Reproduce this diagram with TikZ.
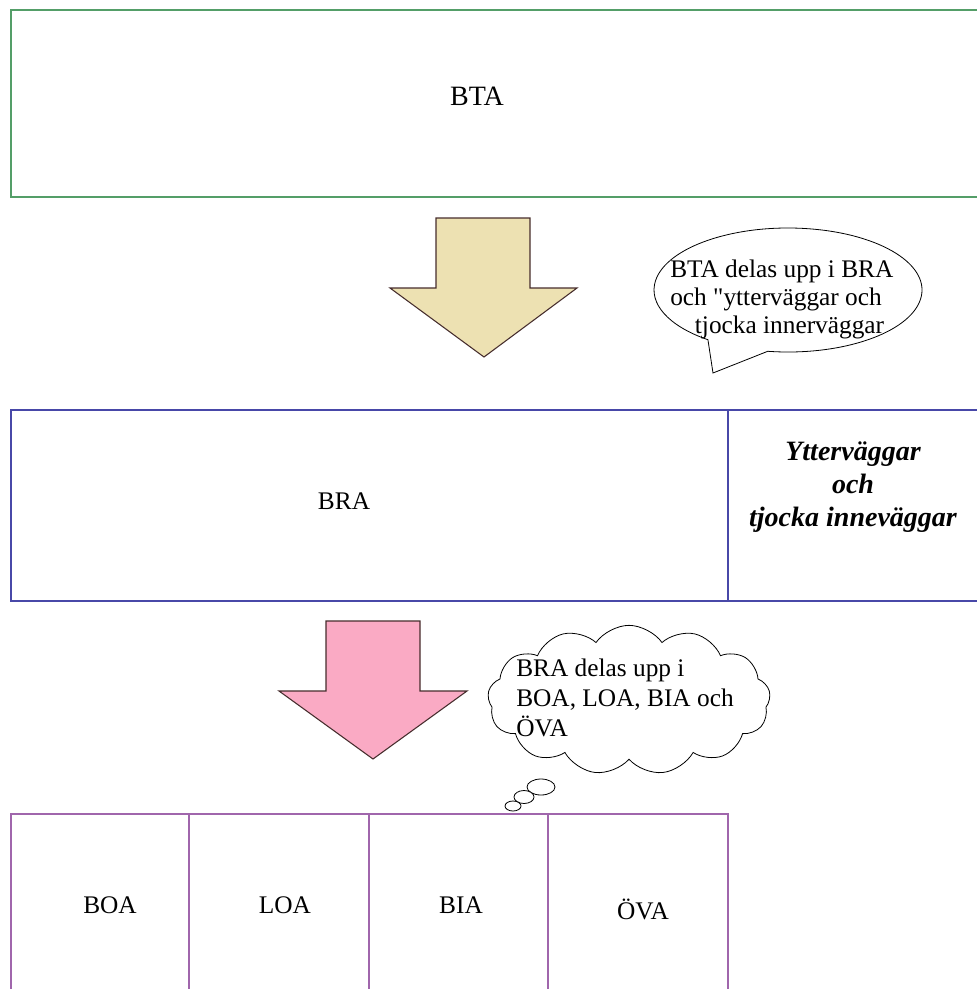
\documentclass[tikz,border=0pt]{standalone}
\usepackage{fontspec}
\setmainfont{Liberation Serif}[Ligatures=TeXOff]
\usetikzlibrary{shapes.symbols}
\definecolor{btagreen}{RGB}{84,158,104}
\definecolor{brablue}{RGB}{72,72,168}
\definecolor{boxpurple}{RGB}{160,102,172}
\definecolor{tanfill}{RGB}{237,225,178}
\definecolor{pinkfill}{RGB}{250,170,196}
\definecolor{arrowline}{RGB}{70,45,45}
\tikzset{
  lbl/.style={inner sep=0pt, font=\fontsize{19}{22}\selectfont},
  bigarrow/.style={draw=arrowline, line width=0.8pt, line join=miter},
  bubbleline/.style={draw=black, line width=0.6pt, fill=white},
}
\begin{document}
\begin{tikzpicture}[x=0.75pt,y=-0.75pt]
\useasboundingbox (0,0) rectangle (976,989);
% BTA box
\draw[btagreen, line width=1.8pt] (995,10) -- (11,10) -- (11,197) -- (995,197);
\node[lbl, font=\fontsize{21}{24}\selectfont] (bta) at (477,96) {BTA};
% tan arrow
\draw[bigarrow, fill=tanfill] (436,218) -- (530,218) -- (530,288) -- (577,288) -- (484,357) -- (390,288) -- (436,288) -- cycle;
% speech bubble
\draw[bubbleline] ({788+134*cos(98.7)},{290+62*sin(98.7)}) arc[start angle=98.7, end angle=-233.3, x radius=134, y radius=62] -- (713,373) -- cycle;
\node[lbl, anchor=north west, align=left, font=\fontsize{19}{20.8}\selectfont] (bubtext) at (670,260)
  {BTA delas upp i BRA\\och "ytterväggar och\\\hspace*{18.5pt}tjocka innerväggar};
% BRA box
\draw[brablue, line width=1.6pt] (995,410) -- (11,410) -- (11,601) -- (995,601);
\draw[brablue, line width=1.6pt] (728,410) -- (728,601);
\node[lbl] (bra) at (344,501) {BRA};
\node[lbl, align=center, font=\fontsize{21}{24.8}\bfseries\itshape] (ytter) at (853,487)
  {Ytterväggar\\och\\tjocka inneväggar};
% pink arrow
\draw[bigarrow, fill=pinkfill] (326,621) -- (420,621) -- (420,691) -- (467,691) -- (373,759) -- (279,691) -- (326,691) -- cycle;
% thought cloud
\node[cloud, draw=black, line width=0.6pt, fill=white, cloud puffs=13, cloud puff arc=110, aspect=2, cloud ignores aspect,
  minimum width=212pt, minimum height=112pt, inner sep=0pt] (cloud) at (629,700) {};
\node[lbl, anchor=north west, align=left, font=\fontsize{19}{22.5}\selectfont] (cloudtext) at (516,659)
  {BRA delas upp i\\BOA, LOA, BIA och\\ÖVA};
\draw[line width=0.6pt, fill=white] (541,787) ellipse [x radius=14, y radius=8];
\draw[line width=0.6pt, fill=white] (524,797) ellipse [x radius=10, y radius=6.5];
\draw[line width=0.6pt, fill=white] (513,806) ellipse [x radius=8, y radius=5];
% bottom boxes
\draw[boxpurple, line width=1.6pt] (11,1000) -- (11,814) -- (728,814) -- (728,1000);
\foreach \xx in {189,369,548} \draw[boxpurple, line width=1.6pt] (\xx,814) -- (\xx,1000);
\node[lbl] (boa) at (110,905) {BOA};
\node[lbl] (loa) at (285,905) {LOA};
\node[lbl] (bia) at (461,905) {BIA};
\node[lbl] (ova) at (643,909) {ÖVA};
\end{tikzpicture}
\end{document}
